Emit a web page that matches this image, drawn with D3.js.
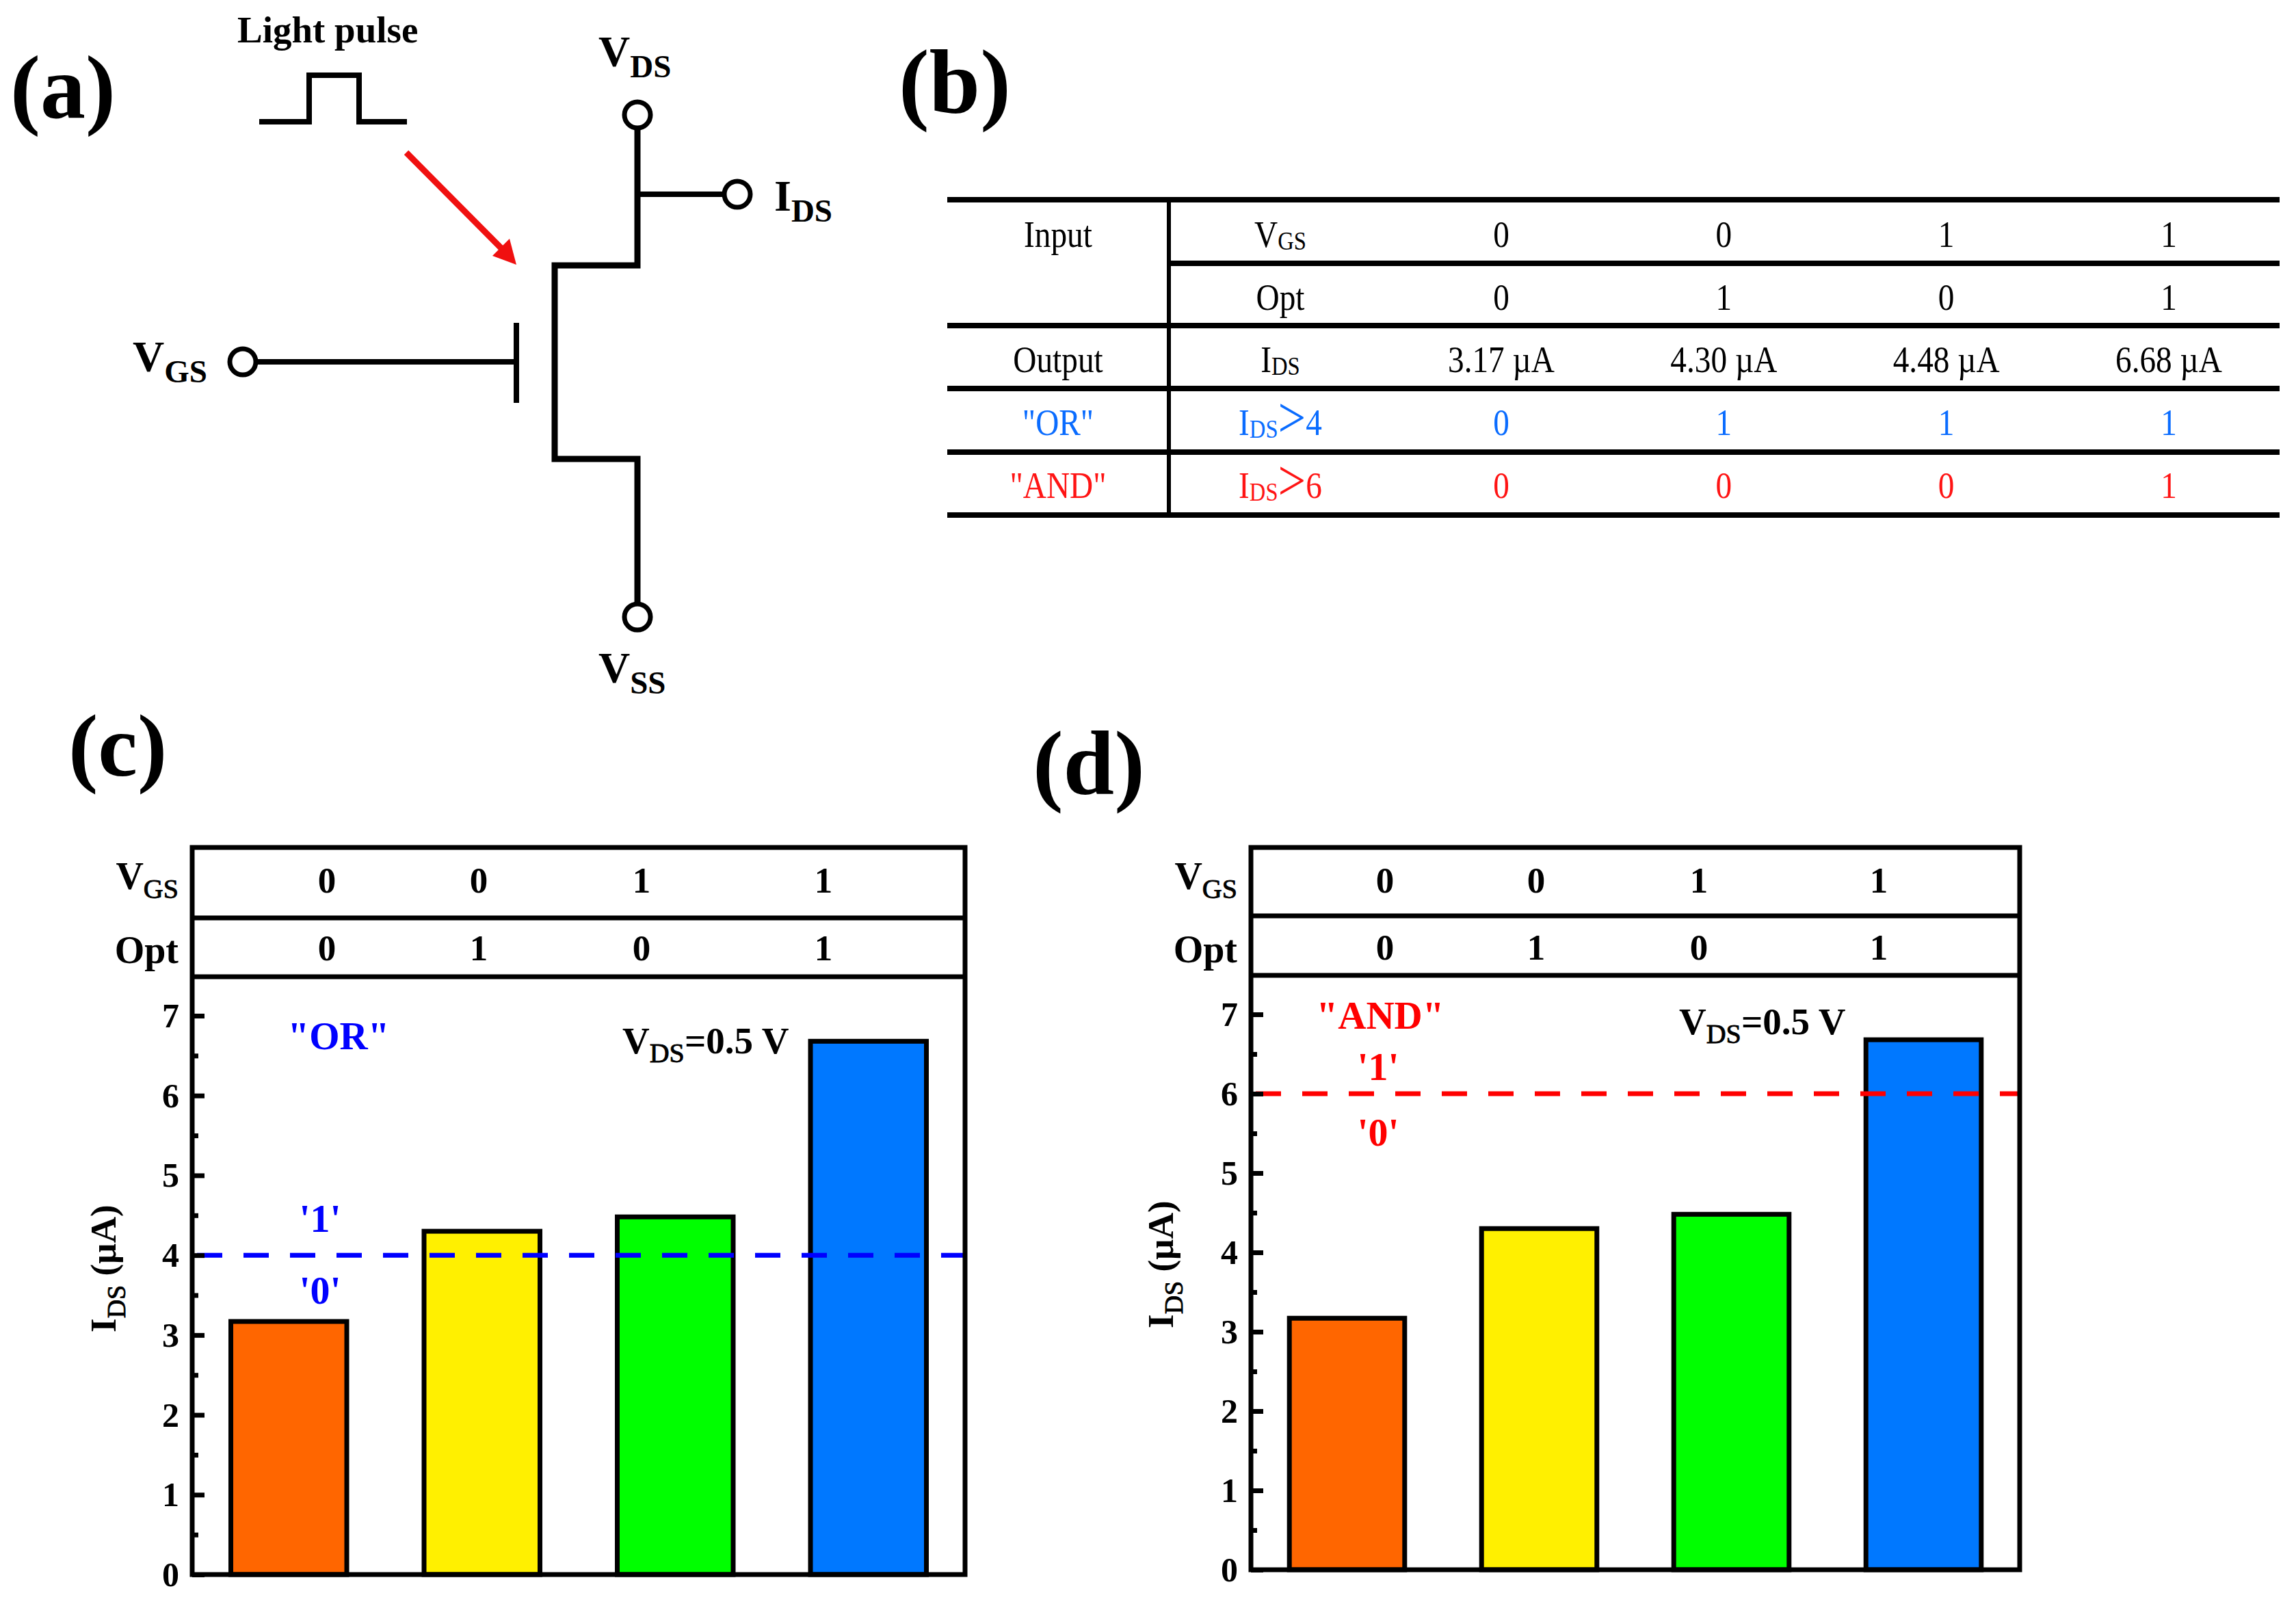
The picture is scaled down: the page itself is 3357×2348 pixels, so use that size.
<!DOCTYPE html>
<html>
<head>
<meta charset="utf-8">
<script src="https://cdn.jsdelivr.net/npm/d3@7"></script>
<style>
  html, body { margin: 0; padding: 0; background: #fff; }
  text { font-family: "Liberation Serif", serif; }
</style>
</head>
<body>
<script>
// chart values
var states = ["00", "01", "10", "11"];
var vgsBits = ["0", "0", "1", "1"];
var optBits = ["0", "1", "0", "1"];
var idsValues = [3.17, 4.30, 4.48, 6.68];
var barColors = ["#ff6600", "#fff000", "#00ff00", "#0078ff"];
var majorTicks = [0, 1, 2, 3, 4, 5, 6, 7];
var minorTicks = [0.5, 1.5, 2.5, 3.5, 4.5, 5.5, 6.5];

// table values
var idsLabels = ["3.17 µA", "4.30 µA", "4.48 µA", "6.68 µA"];
var orBits = ["0", "1", "1", "1"];
var andBits = ["0", "0", "0", "1"];

var tableBlue = "#0a6cff", tableRed = "#ff1414";
var lineBlue = "#0000ff", lineRed = "#ff0000";

var svg = d3.select("body").append("svg")
    .attr("width", 3357)
    .attr("height", 2348);

// main text with a subscript, x is the start of the text or its end depending on anchor
function subText(g, x, y, main, sub, o) {
    o = o || {};
    var t = g.append("text")
        .attr("x", x).attr("y", y)
        .attr("text-anchor", o.anchor || "start")
        .attr("font-size", o.size || 54)
        .attr("font-weight", o.weight || "bold")
        .attr("fill", o.fill || "#000");
    t.append("tspan").text(main);
    t.append("tspan")
        .attr("dy", o.drop || 13)
        .attr("font-size", o.subSize || 38)
        .attr("font-weight", o.subWeight || "normal")
        .attr("stroke", o.subWeight ? "none" : "#000")
        .attr("stroke-width", 0.9)
        .text(sub);
    if (o.rest) {
        t.append("tspan").attr("dy", -(o.drop || 13)).text(o.rest);
    }
    return t;
}

function label(g, x, y, s, size, fill, anchor) {
    return g.append("text")
        .attr("x", x).attr("y", y)
        .attr("text-anchor", anchor || "middle")
        .attr("font-size", size)
        .attr("font-weight", "bold")
        .attr("fill", fill || "#000")
        .text(s);
}

// panel letters
label(svg, 15, 172, "(a)", 132, "#000", "start");
label(svg, 1314, 165, "(b)", 134, "#000", "start");
label(svg, 100, 1134, "(c)", 130, "#000", "start");
label(svg, 1510, 1161, "(d)", 134, "#000", "start");

// ---- (a) circuit ----
var circuit = svg.append("g");
var wire = d3.line();

function drawWire(pts, w) {
    circuit.append("path")
        .attr("d", wire(pts))
        .attr("fill", "none")
        .attr("stroke", "#000")
        .attr("stroke-width", w || 9)
        .attr("stroke-linejoin", "miter");
}

drawWire([[379, 178], [452, 178], [452, 110], [525, 110], [525, 178], [595, 178]], 8);
drawWire([[932, 168], [932, 388], [811, 388], [811, 671], [932, 671], [932, 902]]);
drawWire([[932, 284], [1078, 284]], 8);
drawWire([[355, 529], [755, 529]], 8);
drawWire([[755, 472], [755, 589]], 8);

circuit.append("line")
    .attr("x1", 594).attr("y1", 223).attr("x2", 735).attr("y2", 365)
    .attr("stroke", "#f01010").attr("stroke-width", 9);
circuit.append("path")
    .attr("d", wire([[755, 387], [720, 374], [745, 349]]) + "Z")
    .attr("fill", "#f01010");

[[932, 168], [1078, 284], [355, 529], [932, 902]].forEach(function (c) {
    circuit.append("circle")
        .attr("cx", c[0]).attr("cy", c[1]).attr("r", 19)
        .attr("fill", "#fff").attr("stroke", "#000").attr("stroke-width", 7);
});

label(circuit, 347, 62, "Light pulse", 55, "#000", "start");
var circuitText = { size: 64, subSize: 47, subWeight: "bold", drop: 16 };
subText(circuit, 875, 97, "V", "DS", circuitText);
subText(circuit, 1132, 308, "I", "DS", circuitText);
subText(circuit, 194, 543, "V", "GS", circuitText);
subText(circuit, 875, 998, "V", "SS", circuitText);

// ---- (b) table ----
var table = svg.append("g");
var tableLeft = 1385, tableRight = 3333, tableDivider = 1709;
var colX = d3.scalePoint().domain(states).range([2195, 3171]);

function cell(x, y, s, fill) {
    // the table in the reference is squeezed sideways
    return table.append("text")
        .attr("transform", "translate(" + x + "," + y + ") scale(0.86,1)")
        .attr("text-anchor", "middle")
        .attr("font-size", 55)
        .attr("fill", fill || "#000")
        .text(s);
}

function subCell(x, y, main, sub, gt, fill) {
    var t = table.append("text")
        .attr("transform", "translate(" + x + "," + y + ") scale(0.86,1)")
        .attr("text-anchor", "middle")
        .attr("font-size", 55)
        .attr("fill", fill || "#000");
    t.append("tspan").text(main);
    t.append("tspan").attr("dy", 4).attr("font-size", 38).text(sub);
    if (gt) {
        t.append("tspan").attr("dy", -1).attr("font-size", 84).text(">");
        t.append("tspan").attr("dy", -3).text(gt);
    }
}

[292, 476, 568, 661, 753].forEach(function (y) {
    table.append("line")
        .attr("x1", tableLeft).attr("x2", tableRight)
        .attr("y1", y).attr("y2", y)
        .attr("stroke", "#000").attr("stroke-width", 8);
});
table.append("line")
    .attr("x1", tableDivider).attr("x2", tableRight)
    .attr("y1", 385).attr("y2", 385)
    .attr("stroke", "#000").attr("stroke-width", 8);
table.append("line")
    .attr("x1", tableDivider).attr("x2", tableDivider)
    .attr("y1", 292).attr("y2", 753)
    .attr("stroke", "#000").attr("stroke-width", 6);

cell(1547, 361, "Input");
cell(1547, 544, "Output");
cell(1547, 636, "\"OR\"", tableBlue);
cell(1547, 728, "\"AND\"", tableRed);
subCell(1872, 361, "V", "GS");
cell(1872, 453, "Opt");
subCell(1872, 544, "I", "DS");
subCell(1872, 636, "I", "DS", "4", tableBlue);
subCell(1872, 728, "I", "DS", "6", tableRed);

states.forEach(function (s, i) {
    cell(colX(s), 361, vgsBits[i]);
    cell(colX(s), 453, optBits[i]);
    cell(colX(s), 544, idsLabels[i]);
    cell(colX(s), 636, orBits[i], tableBlue);
    cell(colX(s), 728, andBits[i], tableRed);
});

// ---- (c) and (d) bars ----
function barPanel(p) {
    var g = svg.append("g");

    var x = d3.scaleBand()
        .domain(states)
        .range([p.left, p.right])
        .paddingInner(0.4)
        .paddingOuter(0.2);
    var y = d3.scaleLinear()
        .domain([0, 7])
        .range([p.bottom, p.y7]);

    g.selectAll("rect.bar")
        .data(idsValues)
        .enter().append("rect")
        .attr("class", "bar")
        .attr("x", function (d, i) { return x(states[i]); })
        .attr("y", function (d) { return y(d); })
        .attr("width", x.bandwidth())
        .attr("height", function (d) { return p.bottom - y(d); })
        .attr("fill", function (d, i) { return barColors[i]; })
        .attr("stroke", "#000")
        .attr("stroke-width", 7);

    g.append("line")
        .attr("x1", p.left + 7).attr("x2", p.right)
        .attr("y1", y(p.threshold)).attr("y2", y(p.threshold))
        .attr("stroke", p.lineColor)
        .attr("stroke-width", 7)
        .attr("stroke-dasharray", "37,31");

    // axis with ticks pointing into the plot
    var major = g.append("g")
        .attr("transform", "translate(" + p.left + ",0)")
        .call(d3.axisLeft(y).tickValues(majorTicks).tickFormat(d3.format("d")).tickSize(-18).tickPadding(19));
    var minor = g.append("g")
        .attr("transform", "translate(" + p.left + ",0)")
        .call(d3.axisLeft(y).tickValues(minorTicks).tickSize(-9).tickFormat(""));
    [major, minor].forEach(function (a) {
        a.select(".domain").remove();
        a.selectAll("line").attr("stroke", "#000").attr("stroke-width", 7);
    });
    major.selectAll("text")
        .attr("font-family", "Liberation Serif")
        .attr("font-size", 50)
        .attr("font-weight", "bold")
        .attr("fill", "#000")
        .attr("dy", "0.33em");

    // frame and header rows
    g.append("rect")
        .attr("x", p.left).attr("y", p.top)
        .attr("width", p.right - p.left).attr("height", p.bottom - p.top)
        .attr("fill", "none").attr("stroke", "#000").attr("stroke-width", 7);
    [p.row1, p.row2].forEach(function (ly) {
        g.append("line")
            .attr("x1", p.left).attr("x2", p.right)
            .attr("y1", ly).attr("y2", ly)
            .attr("stroke", "#000").attr("stroke-width", 7);
    });

    states.forEach(function (s, i) {
        label(g, p.headX[i], p.base1, vgsBits[i], 53);
        label(g, p.headX[i], p.base2, optBits[i], 53);
    });
    subText(g, p.left - 20, p.base1 - 5, "V", "GS", { anchor: "end", size: 56, subSize: 40 });
    label(g, p.left - 20, p.base2 + 4, "Opt", 56, "#000", "end");

    // threshold notes
    label(g, p.nameX, p.nameY, p.name, p.nameSize, p.lineColor);
    label(g, p.noteX, p.note1Y, "'1'", 58, p.lineColor);
    label(g, p.noteX, p.note0Y, "'0'", 58, p.lineColor);
    subText(g, p.vdsX, p.vdsY, "V", "DS", { rest: "=0.5 V", size: 55, subSize: 40 });

    var yTitle = g.append("g")
        .attr("transform", "translate(" + p.titleX + "," + p.titleY + ") rotate(-90)");
    subText(yTitle, 0, 0, "I", "DS", { rest: " (µA)", size: 53, subSize: 38, drop: 14 });
}

barPanel({
    left: 281, right: 1411, top: 1239, row1: 1342, row2: 1428, bottom: 2302, y7: 1485,
    threshold: 4, lineColor: lineBlue,
    headX: [478, 700, 938, 1204], base1: 1305, base2: 1404,
    name: "\"OR\"", nameX: 495, nameY: 1534, nameSize: 57,
    noteX: 468, note1Y: 1801, note0Y: 1906,
    vdsX: 910, vdsY: 1540, titleX: 169, titleY: 1948
});

barPanel({
    left: 1829, right: 2953, top: 1239, row1: 1339, row2: 1426, bottom: 2295, y7: 1483,
    threshold: 6, lineColor: lineRed,
    headX: [2025, 2246, 2484, 2747], base1: 1305, base2: 1403,
    name: "\"AND\"", nameX: 2018, nameY: 1504, nameSize: 57,
    noteX: 2015, note1Y: 1579, note0Y: 1675,
    vdsX: 2455, vdsY: 1512, titleX: 1715, titleY: 1942
});
</script>
</body>
</html>
